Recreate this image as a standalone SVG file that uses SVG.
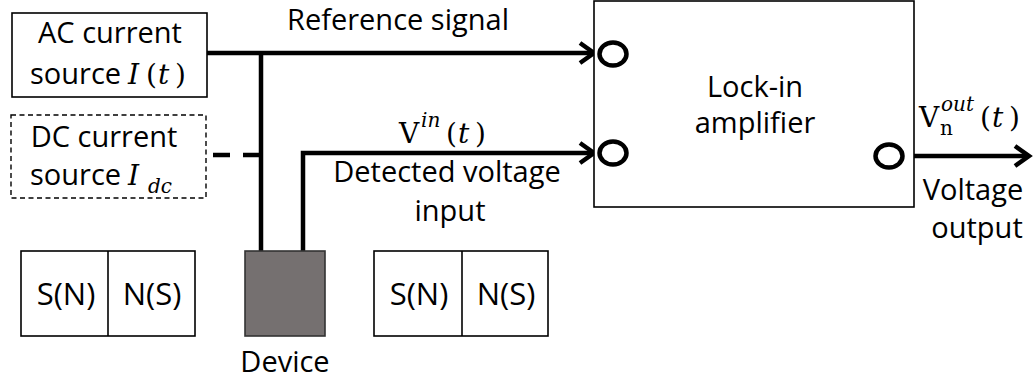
<svg xmlns="http://www.w3.org/2000/svg" width="1034" height="382" viewBox="0 0 1034 382">
<style>
.t{font-family:"Open Sans","Liberation Sans",sans-serif;font-size:29px;fill:#000}
.b{font-size:31px}
.m{font-family:"DejaVu Serif","Liberation Serif",serif;font-size:28px;fill:#000}
.i{font-style:italic}
.s{font-size:20px}
.box{fill:#fff;stroke:#000;stroke-width:1.6}
.dbox{fill:#fff;stroke:#000;stroke-width:1.4;stroke-dasharray:5 3.5}
.w{fill:none;stroke:#000;stroke-width:4.5}
.port{fill:#fff;stroke:#000;stroke-width:4.5}
</style>
<defs>
<marker id="arr" markerUnits="userSpaceOnUse" markerWidth="24" markerHeight="28" refX="16" refY="12" orient="auto" viewBox="0 0 24 28">
<path d="M2,2 L16,12 L2,22" fill="none" stroke="#000" stroke-width="4.5" stroke-linejoin="miter" stroke-linecap="butt"/>
</marker>
</defs>
<g id="connectors">
<path class="w" d="M207,53 H594" marker-end="url(#arr)"/>
<path class="w" d="M303,258 V153 H594" marker-end="url(#arr)"/>
<path class="w" d="M261,53 V258"/>
<path class="w" d="M213,155 H261" stroke-dasharray="17 13"/>
<path class="w" d="M905,156 H1029" marker-end="url(#arr)"/>
</g>
<g id="ac-source">
<rect class="box" x="12" y="13" width="195" height="84"/>
<text class="t" x="110" y="43" text-anchor="middle">AC current</text>
<text class="t" x="30" y="84">source</text>
<text class="m" y="84"><tspan class="i" x="128">I</tspan><tspan x="146">(</tspan><tspan class="i" x="158">t</tspan><tspan x="175">)</tspan></text>
</g>
<g id="dc-source">
<rect class="dbox" x="11" y="115" width="195" height="83"/>
<text class="t" x="104" y="147" text-anchor="middle">DC current</text>
<text class="t" x="30" y="185">source</text>
<text class="m i" y="185"><tspan x="128">I</tspan><tspan class="s" x="148" y="193">dc</tspan></text>
</g>
<g id="magnet-left">
<rect class="box" x="21" y="251" width="174" height="85"/>
<line x1="108" y1="251" x2="108" y2="336" stroke="#000" stroke-width="1.6"/>
<text class="t b" x="66" y="305" text-anchor="middle">S(N)</text>
<text class="t b" x="152" y="305" text-anchor="middle">N(S)</text>
</g>
<g id="device">
<rect x="245" y="251" width="80" height="85" fill="#757070" stroke="#333" stroke-width="1.6"/>
<text class="t" x="285" y="372" text-anchor="middle">Device</text>
</g>
<g id="magnet-right">
<rect class="box" x="374" y="251" width="174" height="85"/>
<line x1="462" y1="251" x2="462" y2="336" stroke="#000" stroke-width="1.6"/>
<text class="t b" x="419" y="305" text-anchor="middle">S(N)</text>
<text class="t b" x="506" y="305" text-anchor="middle">N(S)</text>
</g>
<g id="labels">
<text class="t" x="287" y="30">Reference signal</text>
<text class="m" y="143"><tspan x="399">V</tspan><tspan class="i s" x="421" y="127">in</tspan><tspan x="446" y="143">(</tspan><tspan class="i" x="458">t</tspan><tspan x="475">)</tspan></text>
<text class="t" x="447" y="182" text-anchor="middle">Detected voltage</text>
<text class="t" x="450" y="221" text-anchor="middle">input</text>
<text class="m" y="127"><tspan x="919">V</tspan><tspan class="s" x="940" y="135">n</tspan><tspan class="i s" x="941" y="111">out</tspan><tspan x="980" y="127">(</tspan><tspan class="i" x="992">t</tspan><tspan x="1009">)</tspan></text>
<text class="t" x="973" y="200" text-anchor="middle">Voltage</text>
<text class="t" x="977" y="238" text-anchor="middle">output</text>
</g>
<g id="lockin">
<rect class="box" x="594" y="1" width="320" height="206"/>
<text class="t" x="755" y="97" text-anchor="middle">Lock-in</text>
<text class="t" x="755" y="133" text-anchor="middle">amplifier</text>
<ellipse class="port" cx="613" cy="54" rx="13.5" ry="11.5"/>
<ellipse class="port" cx="613" cy="153" rx="13.5" ry="11.5"/>
<ellipse class="port" cx="889" cy="156" rx="13.5" ry="11.5"/>
</g>
</svg>
